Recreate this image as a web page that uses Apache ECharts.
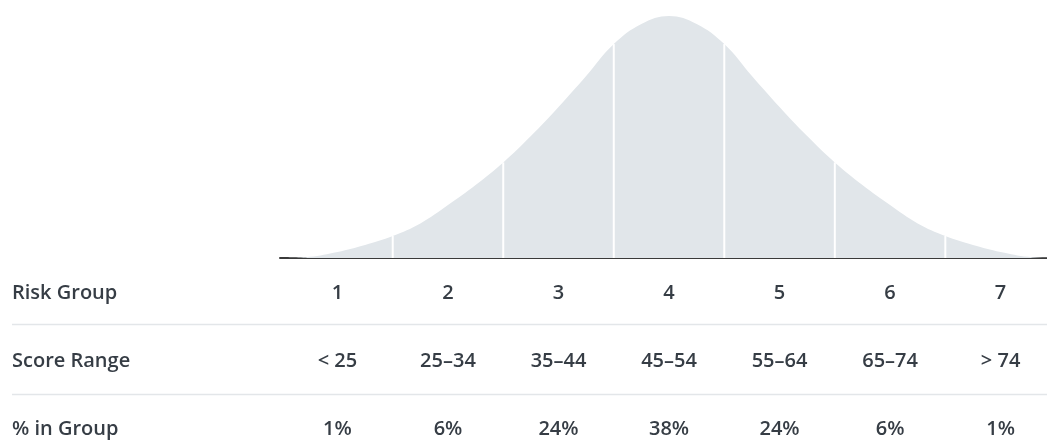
<!DOCTYPE html>
<html>
<head>
<meta charset="utf-8">
<script src="https://cdn.jsdelivr.net/npm/echarts@6/dist/echarts.min.js"></script>
<style>
  html, body { margin: 0; padding: 0; background: #ffffff; }
  #chart { width: 1047px; height: 440px; }
</style>
</head>
<body>
<div id="chart"></div>
<script>
// Score scale (x) and relative density of the bell curve (peak = 100)
const scores = [15, 17.5, 20, 22.5, 25, 27.5, 30, 32.5, 35, 37.5, 40, 42.5, 45, 47.5, 50,
                52.5, 55, 57.5, 60, 62.5, 65, 67.5, 70, 72.5, 75, 77.5, 80, 82.5, 85];
const density = [0, 0.5, 2.5, 5.4, 9.1, 14.3, 21.9, 30.2, 39.5, 50.4, 62.4, 75.2, 88.4, 96.7, 100,
                 96.7, 88.4, 75.2, 62.4, 50.4, 39.5, 30.2, 21.9, 14.3, 9.1, 5.4, 2.5, 0.5, 0];

// Group boundaries and column centres on the score scale
const boundaries = [25, 35, 45, 55, 65, 75];
const groupCenters = [20, 30, 40, 50, 60, 70, 80];

// Table rows
const rowTitles = ['Risk Group', 'Score Range', '% in Group'];
const riskGroups = ['1', '2', '3', '4', '5', '6', '7'];
const scoreRanges = ['< 25', '25–34', '35–44', '45–54', '55–64', '65–74', '> 74'];
const groupShares = ['1%', '6%', '24%', '38%', '24%', '6%', '1%'];

const TEXT = '#363d45';
const FONT = '"Open Sans", "Noto Sans", sans-serif';
const FONT_SIZE = 20;

const curveData = scores.map((s, i) => [s, density[i]]);
const dividerData = boundaries.map(b => [b, density[scores.indexOf(b)]]);

function rowAxis(labels, margin) {
  return {
    type: 'value', min: 14.8, max: 84.2, position: 'bottom',
    axisLine: { show: false }, axisTick: { show: false }, splitLine: { show: false },
    axisLabel: {
      customValues: groupCenters,
      margin: margin,
      verticalAlign: 'middle',
      color: TEXT, fontFamily: FONT, fontWeight: 600, fontSize: FONT_SIZE,
      formatter: v => labels[groupCenters.indexOf(v)]
    }
  };
}

const rowY = [293, 361, 429];
const baseY = 258;

const chart = echarts.init(document.getElementById('chart'), null, { renderer: 'canvas' });
chart.setOption({
  animation: false,
  backgroundColor: '#ffffff',
  grid: { left: 280, right: 0, top: 16, bottom: 440 - baseY },
  xAxis: [
    {
      type: 'value', min: 14.8, max: 84.2,
      axisLine: { show: true, onZero: false, lineStyle: { color: '#3a3a3a', width: 2 } },
      axisTick: { show: false }, axisLabel: { show: false }, splitLine: { show: false }
    },
    rowAxis(riskGroups, rowY[0] - baseY),
    rowAxis(scoreRanges, rowY[1] - baseY),
    rowAxis(groupShares, rowY[2] - baseY)
  ],
  yAxis: {
    type: 'value', min: 0, max: 100, show: false
  },
  series: [
    {
      type: 'line',
      data: curveData,
      smooth: 0.4,
      showSymbol: false,
      lineStyle: { width: 0 },
      areaStyle: { color: '#e1e6ea', opacity: 1 },
      z: 1
    },
    {
      type: 'bar',
      data: dividerData,
      barWidth: 2,
      itemStyle: { color: '#ffffff' },
      z: 2
    }
  ],
  graphic: [
    ...rowTitles.map((t, i) => ({
      type: 'text', x: 12, y: rowY[i],
      style: {
        text: t, fill: TEXT, fontFamily: FONT, fontWeight: 600, fontSize: FONT_SIZE,
        align: 'left', verticalAlign: 'middle'
      }
    })),
    { type: 'line', shape: { x1: 12, y1: 324.5, x2: 1047, y2: 324.5 }, style: { stroke: '#e3e6e9', lineWidth: 1.5 } },
    { type: 'line', shape: { x1: 12, y1: 394.5, x2: 1047, y2: 394.5 }, style: { stroke: '#e3e6e9', lineWidth: 1.5 } }
  ]
});
</script>
</body>
</html>
